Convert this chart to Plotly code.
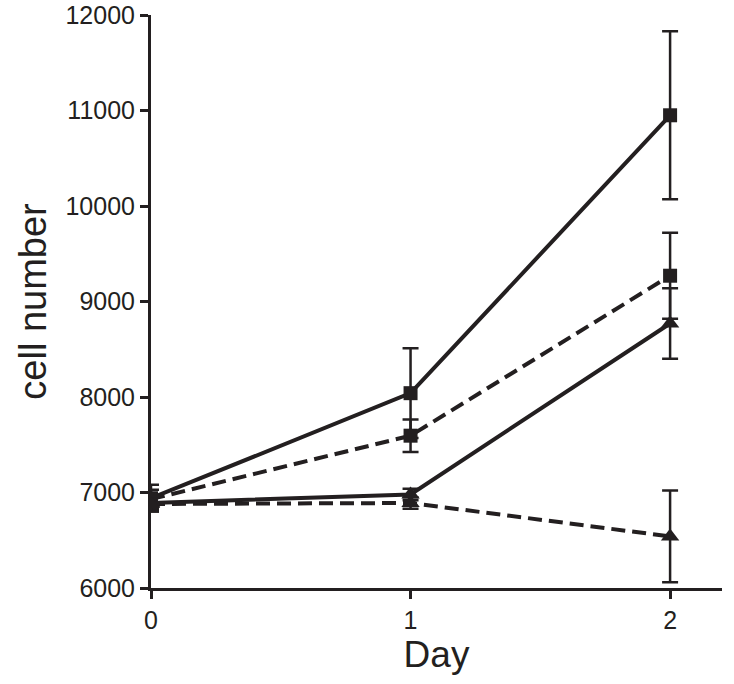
import plotly.graph_objects as go

days = [0, 1, 2]
x_ticks = [0, 1, 2]
y_ticks = [6000, 7000, 8000, 9000, 10000, 11000, 12000]

sq_solid = [6940, 8040, 10950]
sq_solid_err = [140, 470, 880]
sq_dash = [6930, 7595, 9270]
sq_dash_err = [100, 170, 450]
tri_solid = [6890, 6980, 8770]
tri_solid_err = [80, 60, 370]
tri_dash = [6880, 6890, 6540]
tri_dash_err = [80, 60, 480]

INK = "#231f20"

series = [
    (sq_solid, sq_solid_err, "solid", "square", 14),
    (sq_dash, sq_dash_err, "14px,7px", "square", 14),
    (tri_solid, tri_solid_err, "solid", "triangle-up", 16),
    (tri_dash, tri_dash_err, "14px,7px", "triangle-up", 16),
]

fig = go.Figure()
for vals, errs, dash, sym, size in series:
    fig.add_trace(go.Scatter(
        x=days, y=vals, mode="lines+markers",
        line=dict(color=INK, width=4, dash=dash),
        marker=dict(symbol=sym, size=size, color=INK),
        error_y=dict(type="data", array=errs, visible=True,
                     color=INK, thickness=2.5, width=8),
        showlegend=False,
    ))

font_family = "Liberation Sans, Arial, sans-serif"
fig.update_layout(
    width=734, height=684,
    margin=dict(l=151, r=12, t=15, b=96),
    paper_bgcolor="white", plot_bgcolor="white",
    font=dict(family=font_family, color=INK),
    xaxis=dict(
        range=[0, 2.2], tickvals=x_ticks, ticktext=[str(v) for v in x_ticks],
        showgrid=False, zeroline=False, showline=True, linecolor=INK, linewidth=3,
        ticks="outside", ticklen=8, tickwidth=3, tickcolor=INK,
        tickfont=dict(size=25, family=font_family, color=INK),
        ticklabeloverflow="allow", automargin=False,
        title=dict(text="Day", font=dict(size=37, family=font_family, color=INK), standoff=6),
    ),
    yaxis=dict(
        range=[6000, 12000], tickvals=y_ticks, ticktext=[str(v) for v in y_ticks],
        showgrid=False, zeroline=False, showline=True, linecolor=INK, linewidth=3,
        ticks="outside", ticklen=8, tickwidth=3, tickcolor=INK,
        tickfont=dict(size=25, family=font_family, color=INK),
        ticklabeloverflow="allow", automargin=False,
        title=dict(text="cell number", font=dict(size=38, family=font_family, color=INK), standoff=8),
    ),
)

fig.write_html("out.html", config={"displayModeBar": False},
               post_script="document.body.style.margin='0';")
